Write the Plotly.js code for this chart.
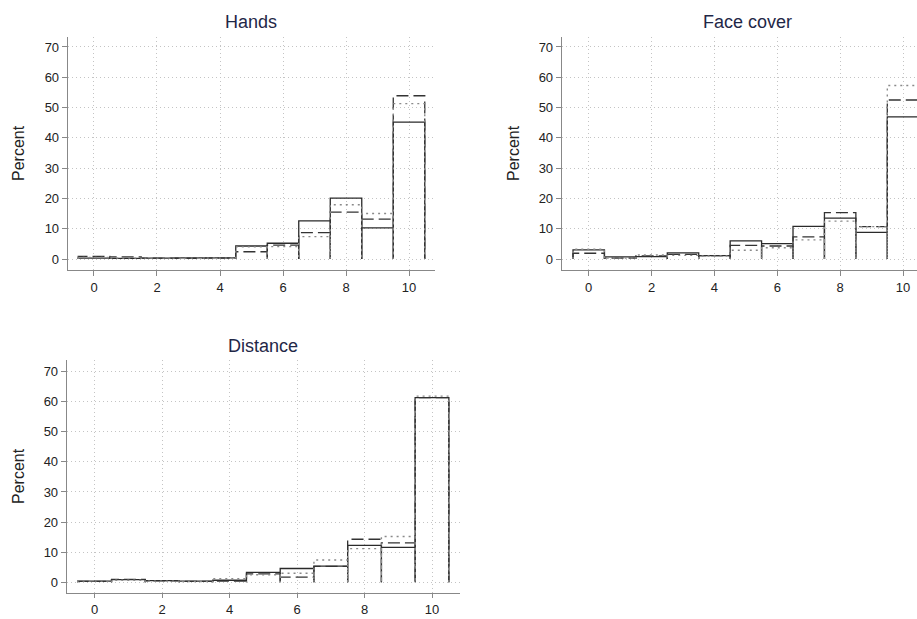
<!DOCTYPE html>
<html>
<head>
<meta charset="utf-8">
<script src="https://cdn.plot.ly/plotly-3.0.1.min.js"></script>
<style>
  html, body { margin: 0; padding: 0; background: #fff; }
  #chart { width: 917px; height: 619px; }
</style>
</head>
<body>
<div id="chart"></div>
<script>
// Response categories (0-10 scale)
const categories = [0, 1, 2, 3, 4, 5, 6, 7, 8, 9, 10];
const xTickVals = [0, 2, 4, 6, 8, 10];
const yTickVals = [0, 10, 20, 30, 40, 50, 60, 70];

// Percent of respondents per category, three groups per panel
const handsSolid  = [0.3, 0.2, 0.3, 0.4, 0.4, 4.3, 5.2, 12.6, 20.1, 10.3, 45.2];
const handsDash   = [0.9, 0.7, 0.3, 0.2, 0.3, 2.4, 4.6, 8.7, 15.5, 13.2, 53.9];
const handsDot    = [0.5, 0.3, 0.3, 0.3, 0.3, 4.0, 4.1, 7.4, 17.9, 15.0, 51.3];

const faceSolid   = [3.0, 0.7, 0.8, 2.0, 1.1, 6.0, 5.1, 10.8, 13.5, 8.8, 46.9];
const faceDash    = [1.9, 0.3, 1.0, 1.5, 1.1, 4.5, 4.3, 7.3, 15.3, 10.7, 52.5];
const faceDot     = [3.2, 0.3, 1.3, 1.2, 1.0, 2.9, 3.7, 6.3, 12.5, 10.7, 57.3];

const distSolid   = [0.4, 0.9, 0.6, 0.4, 0.7, 3.3, 4.6, 5.4, 12.3, 11.6, 61.3];
const distDash    = [0.3, 1.0, 0.5, 0.3, 0.4, 2.8, 1.7, 5.3, 14.3, 13.1, 61.3];
const distDot     = [0.4, 0.7, 0.4, 0.3, 1.2, 2.5, 3.0, 7.4, 11.2, 15.2, 61.8];

const panelTitles = ['Hands', 'Face cover', 'Distance'];
const yTitle = 'Percent';

// Outline of an unfilled histogram: each bin is a rectangle of width 1 from 0 to its value
function outline(cats, vals) {
  const xs = [], ys = [];
  cats.forEach((c, i) => {
    xs.push(c - 0.5, c - 0.5, c + 0.5, c + 0.5);
    ys.push(0, vals[i], vals[i], 0);
  });
  return { x: xs, y: ys };
}

const styles = [
  { color: '#2a2a2a', width: 1.3, dash: 'solid' },
  { color: '#333333', width: 1.3, dash: '12px,5px' },
  { color: '#8a8a8a', width: 1.4, dash: '2px,4px' }
];

const panels = [
  { series: [handsSolid, handsDash, handsDot], xa: 'x',  ya: 'y'  },
  { series: [faceSolid,  faceDash,  faceDot ], xa: 'x2', ya: 'y2' },
  { series: [distSolid,  distDash,  distDot ], xa: 'x3', ya: 'y3' }
];

const traces = [];
panels.forEach(p => {
  p.series.forEach((vals, k) => {
    const o = outline(categories, vals);
    traces.push({
      type: 'scatter', mode: 'lines',
      x: o.x, y: o.y,
      xaxis: p.xa, yaxis: p.ya,
      line: Object.assign({}, styles[k]),
      hoverinfo: 'skip', showlegend: false
    });
  });
});

const W = 917, H = 619;
const FONT = '"Liberation Sans", Arial, Helvetica, sans-serif';
const GRID = { showgrid: true, gridcolor: '#c4c4c4', griddash: '1px,3px', gridwidth: 1 };

function xAxis(domPx, range) {
  return Object.assign({
    domain: [domPx[0] / W, domPx[1] / W],
    range: range, autorange: false,
    tickvals: xTickVals, ticks: 'outside', ticklen: 5, tickcolor: '#888',
    tickfont: { family: FONT, size: 13, color: '#222' },
    showline: true, linecolor: '#888', linewidth: 1.3,
    zeroline: false, fixedrange: true
  }, GRID);
}
function yAxis(domPx, range) {
  return Object.assign({
    domain: [1 - domPx[1] / H, 1 - domPx[0] / H],
    range: range, autorange: false,
    tickvals: yTickVals, ticks: 'outside', ticklen: 5, tickcolor: '#888',
    tickfont: { family: FONT, size: 13, color: '#222' },
    showline: true, linecolor: '#888', linewidth: 1.3,
    zeroline: false, fixedrange: true
  }, GRID);
}

const layout = {
  width: W, height: H,
  margin: { l: 0, r: 0, t: 0, b: 0 },
  paper_bgcolor: '#ffffff', plot_bgcolor: '#ffffff',
  showlegend: false,
  xaxis:  Object.assign(xAxis([68, 435], [-0.825, 10.825]), { anchor: 'y' }),
  yaxis:  Object.assign(yAxis([37, 270], [-3.63, 73.3]), { anchor: 'x' }),
  xaxis2: Object.assign(xAxis([562, 917], [-0.85, 10.445]), { anchor: 'y2' }),
  yaxis2: Object.assign(yAxis([37, 270], [-3.63, 73.3]), { anchor: 'x2' }),
  xaxis3: Object.assign(xAxis([67, 460], [-0.82, 10.83]), { anchor: 'y3', ticklen: 4 }),
  yaxis3: Object.assign(yAxis([360, 593], [-3.54, 73.8]), { anchor: 'x3' }),
  annotations: [
    { text: panelTitles[0], x: 251 / W, y: 1 - 22 / H },
    { text: panelTitles[1], x: 747 / W, y: 1 - 22 / H },
    { text: panelTitles[2], x: 263 / W, y: 1 - 346 / H }
  ].map(a => Object.assign(a, {
    xref: 'paper', yref: 'paper', xanchor: 'center', yanchor: 'middle',
    showarrow: false, font: { family: FONT, size: 18, color: '#1f2747' }
  })).concat([
    { x: 18 / W, y: 1 - 153 / H },
    { x: 513 / W, y: 1 - 153 / H },
    { x: 18 / W, y: 1 - 476 / H }
  ].map(a => Object.assign(a, {
    text: yTitle, textangle: -90,
    xref: 'paper', yref: 'paper', xanchor: 'center', yanchor: 'middle',
    showarrow: false, font: { family: FONT, size: 16, color: '#222' }
  })))
};

Plotly.newPlot('chart', traces, layout, { staticPlot: true, displayModeBar: false });
</script>
</body>
</html>
